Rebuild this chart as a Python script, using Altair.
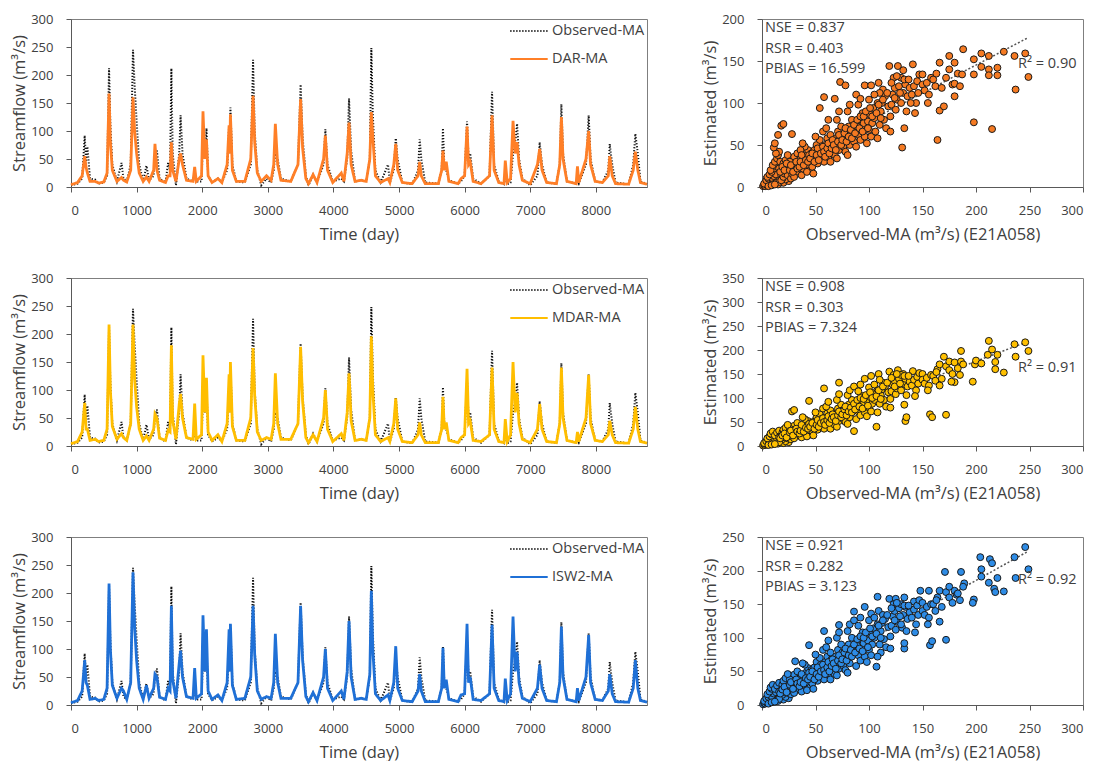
import altair as alt
import pandas as pd

FONT = "Open Sans"
TXT = "#404040"

# ---------------- time series key points (day, m3/s) ----------------
days = [0, 100, 170, 209, 230, 250, 290, 370, 420, 500, 550, 580, 600, 630, 700, 770, 800, 850,
        910, 945, 970, 1000, 1040, 1100, 1150, 1190, 1260, 1280, 1310, 1350, 1440, 1480, 1510, 1530,
        1550, 1600, 1650, 1670, 1700, 1760, 1860, 1885, 1910, 1990, 2012, 2040, 2065, 2090, 2150, 2240,
        2300, 2380, 2410, 2420, 2430, 2460, 2520, 2650, 2740, 2775, 2800, 2840, 2900, 2980, 3050, 3090,
        3115, 3150, 3200, 3350, 3460, 3500, 3530, 3580, 3620, 3690, 3750, 3850, 3877, 3910, 3990, 4120,
        4160, 4210, 4238, 4270, 4330, 4425, 4500, 4555, 4578, 4600, 4640, 4720, 4832, 4860, 4920, 4950,
        4980, 5050, 5200, 5290, 5315, 5340, 5400, 5600, 5650, 5670, 5690, 5720, 5760, 5900, 5945, 6000,
        6037, 6060, 6085, 6130, 6250, 6380, 6418, 6450, 6520, 6600, 6620, 6650, 6700, 6738, 6770, 6800,
        6830, 6880, 7000, 7110, 7144, 7180, 7250, 7400, 7450, 7475, 7500, 7560, 7700, 7720, 7740, 7850,
        7891, 7920, 7990, 8100, 8190, 8212, 8250, 8300, 8500, 8570, 8602, 8640, 8680, 8780]

observed = [3, 6, 15, 92, 45, 72, 15, 13, 6, 8, 20, 212, 110, 40, 10, 43, 15, 10,
            40, 245, 180, 120, 40, 10, 38, 12, 20, 50, 65, 15, 8, 43, 30, 212,
            60, 3, 60, 128, 60, 15, 10, 28, 10, 10, 90, 60, 105, 20, 8, 15,
            8, 30, 110, 60, 142, 40, 10, 8, 40, 227, 100, 30, 3, 15, 8, 30,
            60, 50, 15, 10, 40, 183, 90, 20, 3, 22, 8, 40, 103, 40, 10, 15,
            10, 50, 158, 65, 10, 12, 10, 50, 248, 130, 30, 8, 40, 8, 30, 87,
            50, 8, 5, 30, 85, 50, 8, 6, 30, 105, 40, 30, 12, 6, 10, 20,
            117, 50, 60, 15, 6, 20, 170, 40, 10, 5, 20, 5, 8, 60, 80, 113,
            50, 15, 3, 20, 80, 40, 8, 6, 40, 148, 60, 10, 6, 10, 6, 40,
            128, 50, 10, 8, 30, 77, 40, 8, 5, 40, 95, 60, 10, 5]

dar = [4, 8, 20, 55, 35, 25, 10, 10, 7, 9, 25, 167, 80, 30, 10, 17, 12, 9,
       30, 160, 100, 60, 25, 10, 18, 10, 30, 77, 30, 12, 8, 20, 20, 80,
       30, 10, 50, 60, 40, 12, 10, 36, 10, 20, 135, 50, 85, 20, 8, 15,
       8, 40, 110, 60, 130, 30, 10, 10, 50, 163, 80, 25, 10, 20, 12, 40,
       113, 40, 12, 10, 40, 157, 70, 15, 6, 22, 8, 50, 92, 30, 8, 25,
       10, 60, 115, 40, 10, 12, 10, 50, 134, 90, 20, 8, 15, 8, 40, 77,
       30, 8, 6, 20, 45, 20, 6, 6, 30, 65, 30, 45, 10, 6, 15, 20,
       108, 40, 45, 10, 6, 20, 128, 30, 8, 6, 47, 8, 15, 118, 60, 80,
       40, 12, 6, 40, 68, 30, 8, 6, 40, 125, 50, 10, 6, 37, 8, 50,
       100, 40, 10, 8, 20, 55, 20, 6, 5, 30, 63, 30, 8, 5]

mdar = [4, 8, 25, 77, 30, 30, 10, 12, 8, 10, 30, 217, 100, 35, 12, 22, 15, 10,
        40, 217, 120, 70, 30, 10, 18, 10, 30, 57, 50, 14, 10, 28, 25, 180,
        45, 12, 75, 93, 50, 15, 12, 76, 12, 20, 162, 60, 122, 25, 10, 20,
        8, 40, 128, 60, 150, 35, 10, 10, 50, 175, 90, 25, 10, 15, 12, 40,
        130, 40, 12, 12, 40, 177, 80, 15, 6, 20, 8, 50, 100, 30, 8, 22,
        10, 60, 130, 45, 10, 12, 10, 50, 196, 100, 20, 8, 15, 8, 40, 85,
        30, 8, 6, 20, 42, 20, 6, 6, 30, 88, 30, 42, 10, 6, 15, 20,
        138, 40, 45, 10, 8, 20, 140, 30, 8, 6, 48, 8, 20, 150, 60, 95,
        40, 12, 6, 30, 75, 30, 8, 6, 40, 140, 50, 10, 6, 25, 8, 50,
        127, 40, 10, 8, 20, 45, 20, 6, 5, 30, 70, 30, 8, 5]

isw2 = [4, 8, 25, 80, 40, 35, 10, 12, 8, 10, 30, 217, 100, 35, 12, 30, 25, 10,
        40, 237, 140, 80, 30, 10, 35, 12, 30, 55, 50, 14, 10, 30, 25, 177,
        45, 12, 75, 97, 50, 15, 12, 66, 12, 20, 160, 60, 135, 25, 10, 18,
        8, 40, 135, 60, 145, 35, 10, 12, 50, 177, 90, 25, 10, 15, 12, 40,
        127, 40, 12, 12, 40, 177, 80, 15, 6, 22, 8, 50, 100, 30, 8, 25,
        10, 60, 150, 50, 10, 12, 10, 55, 204, 100, 20, 8, 18, 8, 40, 105,
        30, 8, 6, 25, 55, 25, 6, 6, 30, 102, 30, 45, 10, 6, 18, 20,
        145, 40, 50, 10, 8, 20, 143, 30, 8, 6, 47, 8, 20, 158, 60, 95,
        40, 12, 6, 30, 72, 30, 8, 6, 40, 140, 50, 10, 6, 30, 8, 50,
        125, 40, 10, 8, 25, 55, 20, 6, 5, 30, 80, 30, 8, 5]

# ---------------- scatter points (observed, estimated) ----------------
dar_pairs = [
    (1, 1), (2, 2), (3, 1), (4, 3), (5, 2), (6, 4), (7, 3), (8, 5), (3, 5), (5, 7), (7, 8), (9, 6), (10, 4),
    (11, 8), (12, 10), (13, 6), (14, 9), (15, 12), (2, 4), (4, 8), (6, 10), (8, 12), (10, 14), (12, 16),
    (14, 18), (9, 11), (11, 13), (13, 15), (5, 12), (7, 15), (9, 18), (11, 22), (13, 25), (8, 20), (10, 26),
    (12, 30), (14, 34), (15, 38), (16, 42), (13, 40), (11, 47), (12, 52), (15, 62), (18, 73), (20, 75),
    (17, 30), (16, 22), (18, 14), (15, 3), (20, 5), (25, 7), (22, 9), (19, 10), (16, 6), (6, 1), (9, 2), (12, 3),
    (18, 8), (20, 12), (21, 16), (19, 20), (22, 24), (20, 28), (23, 18), (24, 14), (25, 22), (22, 32),
    (27, 10), (28, 16), (30, 20), (29, 26), (31, 30), (32, 24), (30, 36), (33, 40), (28, 63), (34, 18),
    (35, 28), (36, 34), (26, 30), (24, 38), (30, 12),
    (37, 14), (38, 22), (40, 28), (39, 34), (41, 38), (42, 26), (43, 44), (40, 48), (44, 32), (45, 20),
    (46, 40), (38, 52), (36, 44), (42, 18),
    (47, 24), (48, 32), (50, 36), (49, 44), (51, 50), (52, 28), (53, 40), (54, 56), (50, 60), (55, 46),
    (56, 34), (54, 94), (58, 107), (57, 66), (48, 16),
    (58, 30), (60, 42), (59, 50), (61, 58), (62, 36), (63, 48), (64, 62), (60, 70), (65, 54), (66, 40),
    (62, 80), (68, 105), (64, 30),
    (68, 38), (70, 50), (69, 58), (71, 66), (72, 44), (73, 56), (74, 72), (70, 80), (75, 62), (76, 48),
    (73, 125), (78, 121), (72, 90), (70, 34),
    (78, 42), (80, 56), (79, 64), (81, 72), (82, 50), (83, 62), (84, 80), (80, 90), (85, 68), (86, 54),
    (82, 98), (88, 110), (80, 38),
    (88, 48), (90, 62), (89, 72), (91, 80), (92, 56), (93, 70), (94, 88), (90, 98), (95, 76), (96, 60),
    (96, 121), (92, 105),
    (98, 52), (100, 68), (99, 78), (101, 86), (102, 60), (103, 76), (104, 94), (100, 104), (105, 82),
    (102, 121), (106, 66), (108, 100),
    (109, 124), (108, 58), (110, 74), (111, 90), (112, 100), (113, 116), (114, 80), (115, 108), (116, 70),
    (110, 112), (118, 96),
    (119, 144), (120, 84), (121, 98), (122, 110), (124, 118), (125, 92), (123, 130), (126, 104), (120, 66),
    (127, 144), (128, 120),
    (131, 47), (132, 139), (130, 100), (132, 112), (134, 122), (135, 90), (133, 70), (136, 108), (138, 118),
    (130, 130),
    (141, 146), (140, 110), (142, 120), (144, 100), (145, 126), (147, 134), (143, 88), (146, 112),
    (150, 134), (150, 122), (152, 115), (154, 124), (156, 110), (158, 130), (155, 100),
    (160, 128), (162, 120), (164, 56), (166, 91), (166, 148), (163, 135), (168, 118), (170, 96),
    (172, 130), (175, 156), (175, 140), (178, 122), (180, 148), (180, 123), (180, 108), (183, 135),
    (185, 120), (187, 134), (188, 164),
    (198, 77), (198, 152), (205, 159), (205, 143), (212, 156), (212, 140), (212, 133), (215, 69), (220, 133),
    (220, 142), (226, 161), (236, 156), (237, 116), (246, 159), (249, 131), (198, 134),
    # denser core of the cloud
    (17, 18), (19, 24), (21, 20), (23, 28), (26, 20), (27, 26), (29, 18), (32, 30), (33, 22), (35, 24),
    (36, 30), (37, 38), (39, 26), (41, 32), (43, 30), (44, 38), (45, 34), (47, 40), (49, 30), (51, 38),
    (52, 46), (53, 32), (55, 40), (57, 48), (58, 42), (59, 36), (61, 46), (62, 52), (63, 40), (65, 46),
    (66, 56), (67, 50), (69, 44), (71, 54), (72, 62), (74, 50), (75, 56), (77, 64), (78, 70), (79, 54),
    (81, 60), (83, 68), (84, 58), (86, 74), (87, 64), (89, 80), (91, 70), (92, 84), (94, 66), (95, 84),
    (97, 90), (99, 70), (101, 94), (103, 84), (105, 110), (107, 88), (109, 98), (111, 82), (113, 104),
    (117, 112), (121, 124), (124, 106), (126, 132), (129, 112), (133, 128), (137, 128), (139, 100),
]

mdar_pairs = [
    (1, 1), (2, 3), (3, 2), (4, 4), (5, 3), (6, 6), (7, 5), (8, 8), (3, 6), (5, 9), (7, 10), (9, 7), (10, 5),
    (11, 10), (12, 12), (13, 8), (14, 12), (15, 15), (2, 6), (4, 10), (6, 12), (8, 14), (10, 16), (12, 20),
    (14, 22), (9, 13), (11, 17), (13, 18), (5, 16), (7, 20), (9, 24), (11, 28), (8, 26), (10, 30), (12, 22),
    (14, 28), (16, 32), (16, 18), (18, 12), (15, 5), (20, 6), (25, 8), (22, 10), (19, 14), (16, 8), (6, 2),
    (9, 3), (12, 4),
    (18, 20), (20, 24), (21, 18), (19, 28), (22, 30), (20, 34), (23, 22), (24, 16), (25, 26), (22, 38),
    (27, 14), (28, 20), (30, 26), (29, 32), (31, 36), (32, 28), (30, 42), (28, 72), (30, 75), (34, 22),
    (35, 34), (36, 40), (26, 36), (24, 44), (30, 16), (33, 48),
    (37, 18), (38, 28), (40, 34), (39, 40), (41, 46), (42, 30), (43, 52), (40, 56), (44, 38), (45, 24),
    (46, 48), (38, 60), (44, 94), (42, 20),
    (47, 30), (48, 40), (50, 44), (49, 52), (51, 60), (52, 34), (53, 48), (54, 66), (50, 70), (55, 56),
    (56, 40), (58, 120), (57, 78), (48, 22),
    (58, 36), (60, 50), (59, 60), (61, 68), (62, 44), (63, 58), (64, 74), (60, 82), (65, 64), (66, 48),
    (62, 92), (64, 36),
    (68, 44), (70, 60), (69, 68), (71, 78), (72, 52), (73, 66), (74, 86), (70, 96), (75, 74), (76, 56),
    (72, 132), (72, 108), (70, 40),
    (78, 50), (80, 66), (79, 76), (81, 86), (82, 60), (83, 74), (84, 96), (80, 106), (85, 82), (86, 31),
    (82, 116), (86, 124), (80, 46),
    (88, 56), (90, 72), (89, 84), (91, 94), (92, 64), (93, 82), (94, 104), (90, 114), (95, 90), (96, 70),
    (96, 140), (92, 128),
    (98, 62), (100, 80), (99, 92), (101, 102), (102, 72), (103, 88), (104, 110), (100, 122), (105, 96),
    (102, 146), (107, 40), (108, 118),
    (109, 150), (108, 70), (110, 88), (111, 106), (112, 118), (113, 132), (114, 96), (115, 124), (116, 82),
    (110, 138), (118, 112),
    (119, 155), (120, 98), (121, 114), (122, 128), (124, 136), (125, 108), (123, 148), (126, 120), (120, 80),
    (127, 158), (128, 140),
    (134, 52), (135, 60), (132, 150), (130, 116), (132, 130), (134, 140), (135, 106), (133, 86), (136, 124),
    (138, 134), (130, 148),
    (141, 156), (140, 126), (142, 138), (144, 116), (145, 144), (147, 152), (143, 104), (146, 130),
    (150, 150), (150, 138), (152, 130), (154, 142), (156, 126), (158, 148), (155, 116), (157, 66), (159, 60),
    (160, 146), (162, 136), (164, 160), (166, 170), (163, 154), (168, 140), (170, 186), (172, 65), (166, 126),
    (172, 166), (175, 176), (175, 158), (178, 150), (180, 174), (180, 133), (177, 134), (183, 162),
    (185, 148), (186, 198), (186, 176), (188, 170),
    (197, 134), (199, 170), (200, 178), (211, 190), (215, 201), (212, 219), (220, 190), (218, 175),
    (218, 160), (226, 153), (236, 212), (237, 186), (246, 216), (249, 198), (205, 172),
    # denser core of the cloud
    (17, 16), (19, 22), (21, 26), (23, 18), (26, 28), (27, 32), (29, 22), (32, 36), (33, 30), (35, 26),
    (36, 32), (37, 44), (39, 30), (41, 38), (43, 36), (44, 46), (45, 40), (47, 48), (49, 36), (51, 44),
    (52, 54), (53, 40), (55, 48), (57, 58), (58, 50), (59, 44), (61, 54), (62, 62), (63, 48), (65, 56),
    (66, 66), (67, 60), (69, 52), (71, 64), (72, 72), (74, 60), (75, 66), (77, 76), (78, 82), (79, 64),
    (81, 72), (83, 80), (84, 70), (86, 88), (87, 76), (89, 96), (91, 82), (92, 100), (94, 78), (95, 98),
    (97, 106), (99, 84), (101, 112), (103, 100), (105, 128), (107, 104), (109, 116), (111, 98),
    (113, 124), (117, 132), (121, 142), (124, 124), (126, 150), (129, 130), (133, 146), (137, 146),
]

isw2_pairs = [
    (1, 1), (2, 3), (3, 2), (4, 4), (5, 3), (6, 6), (7, 5), (8, 8), (3, 6), (5, 9), (7, 10), (9, 7), (10, 6),
    (11, 10), (12, 12), (13, 9), (14, 13), (15, 15), (2, 6), (4, 10), (6, 12), (8, 14), (10, 17), (12, 20),
    (14, 23), (9, 13), (11, 17), (13, 19), (5, 16), (7, 20), (9, 24), (11, 28), (8, 26), (10, 30), (12, 24),
    (14, 29), (16, 33), (16, 20), (18, 13), (15, 6), (20, 8), (25, 10), (22, 12), (19, 15), (16, 9), (6, 2),
    (9, 4), (12, 5),
    (18, 22), (20, 26), (21, 19), (19, 30), (22, 32), (20, 36), (23, 24), (24, 18), (25, 28), (22, 40),
    (27, 16), (28, 22), (30, 28), (29, 34), (31, 38), (32, 30), (30, 45), (31, 65), (34, 24), (35, 36),
    (36, 42), (26, 38), (24, 46), (30, 18), (33, 50),
    (37, 20), (38, 30), (40, 36), (39, 42), (41, 48), (42, 32), (43, 55), (40, 60), (44, 40), (45, 26),
    (46, 52), (38, 62), (44, 89), (42, 22),
    (47, 32), (48, 42), (50, 48), (49, 56), (51, 64), (52, 36), (53, 52), (54, 70), (50, 75), (55, 60),
    (56, 42), (58, 110), (57, 82), (48, 24),
    (58, 38), (60, 52), (59, 64), (61, 72), (62, 46), (63, 60), (64, 78), (60, 86), (65, 68), (66, 50),
    (62, 96), (64, 38),
    (68, 46), (70, 62), (69, 72), (71, 82), (72, 54), (73, 68), (74, 90), (70, 100), (75, 78), (76, 58),
    (72, 119), (72, 108), (70, 44),
    (78, 52), (80, 68), (79, 80), (81, 90), (82, 62), (83, 76), (84, 100), (80, 110), (85, 86), (86, 139),
    (82, 120), (86, 126), (80, 48),
    (88, 58), (90, 74), (89, 88), (91, 98), (92, 66), (93, 84), (94, 108), (90, 118), (95, 92), (96, 146),
    (96, 72), (92, 130),
    (98, 64), (100, 82), (99, 96), (101, 106), (102, 74), (103, 90), (104, 114), (100, 126), (105, 100),
    (102, 136), (107, 57), (108, 161), (108, 120),
    (111, 78), (109, 140), (108, 72), (110, 90), (111, 110), (112, 122), (113, 134), (114, 98), (115, 128),
    (116, 86), (118, 116), (119, 158),
    (120, 102), (121, 118), (122, 132), (124, 140), (125, 112), (125, 158), (123, 150), (126, 124),
    (120, 84), (128, 144),
    (133, 84), (131, 115), (133, 160), (130, 120), (132, 134), (134, 146), (135, 110), (133, 92), (136, 128),
    (138, 138), (130, 150),
    (142, 154), (140, 130), (142, 142), (144, 120), (145, 148), (147, 156), (143, 108), (146, 134), (148, 170),
    (150, 152), (150, 140), (152, 134), (154, 146), (156, 170), (156, 130), (158, 150), (155, 120),
    (157, 89), (159, 95),
    (160, 150), (162, 140), (164, 160), (166, 124), (163, 156), (168, 146), (171, 198), (172, 97), (166, 170),
    (172, 168), (175, 176), (175, 160), (178, 152), (180, 170), (182, 164), (186, 198), (189, 181),
    (183, 166), (185, 156), (188, 176),
    (198, 157), (197, 152), (204, 220), (205, 202), (205, 191), (213, 217), (215, 211), (212, 182),
    (217, 173), (218, 168), (220, 189), (226, 169), (236, 220), (237, 189), (246, 235), (249, 202),
    # denser core of the cloud
    (17, 17), (19, 23), (21, 27), (23, 19), (26, 30), (27, 34), (29, 24), (32, 38), (33, 32), (35, 28),
    (36, 34), (37, 46), (39, 32), (41, 40), (43, 38), (44, 48), (45, 42), (47, 50), (49, 38), (51, 46),
    (52, 56), (53, 42), (55, 50), (57, 60), (58, 52), (59, 46), (61, 56), (62, 64), (63, 50), (65, 58),
    (66, 68), (67, 62), (69, 54), (71, 66), (72, 74), (74, 62), (75, 68), (77, 78), (78, 84), (79, 66),
    (81, 74), (83, 82), (84, 72), (86, 90), (87, 78), (89, 98), (91, 84), (92, 102), (94, 80), (95, 100),
    (97, 108), (99, 86), (101, 114), (103, 102), (105, 130), (107, 106), (109, 118), (111, 100),
    (113, 126), (117, 134), (121, 144), (124, 126), (126, 152), (129, 132), (133, 148), (137, 148),
]

stats = {
    "DAR-MA": ["NSE = 0.837", "RSR = 0.403", "PBIAS = 16.599", "R² = 0.90"],
    "MDAR-MA": ["NSE = 0.908", "RSR = 0.303", "PBIAS = 7.324", "R² = 0.91"],
    "ISW2-MA": ["NSE = 0.921", "RSR = 0.282", "PBIAS = 3.123", "R² = 0.92"],
}

TS_W, TS_H = 576, 168
SC_W, SC_H = 321, 168


def ts_chart(name, vals, color):
    df_obs = pd.DataFrame({"day": days, "flow": observed, "series": "Observed-MA"})
    df_mod = pd.DataFrame({"day": days, "flow": vals, "series": name})
    dom = ["Observed-MA", name]
    legend = alt.Legend(title=None, orient="none", legendX=436, legendY=-10, padding=2,
                        symbolType="stroke", symbolSize=1400, symbolStrokeWidth=2,
                        labelFontSize=14.5, labelColor=TXT, labelFont=FONT, rowPadding=1,
                        labelOffset=3)
    x = alt.X("day:Q", scale=alt.Scale(domain=[0, 8780], nice=False),
              axis=alt.Axis(values=list(range(0, 9000, 1000)), format="d", title="Time (day)"))
    y = alt.Y("flow:Q", scale=alt.Scale(domain=[0, 300], nice=False),
              axis=alt.Axis(values=list(range(0, 301, 50)), format="d", title="Streamflow (m³/s)"))
    col = alt.Color("series:N", scale=alt.Scale(domain=dom, range=["#111111", color]), legend=legend)
    dash = alt.StrokeDash("series:N", scale=alt.Scale(domain=dom, range=[[1.2, 1.8], [1, 0]]), legend=legend)
    obs_line = alt.Chart(df_obs).mark_line(strokeWidth=2).encode(x=x, y=y, color=col, strokeDash=dash)
    mod_line = alt.Chart(df_mod).mark_line(strokeWidth=2.8).encode(x=x, y=y, color=col, strokeDash=dash)
    return alt.layer(obs_line, mod_line).properties(width=TS_W, height=TS_H)


def label(text, px, py):
    return alt.Chart(pd.DataFrame({"t": [text]})).mark_text(
        align="left", baseline="middle", fontSize=14.5, font=FONT, color=TXT
    ).encode(x=alt.value(px), y=alt.value(py), text="t:N")


def sc_chart(name, pairs, color, ymax, r2_y):
    df = pd.DataFrame(pairs, columns=["obs", "est"])
    x = alt.X("obs:Q", scale=alt.Scale(domain=[0, 300], nice=False),
              axis=alt.Axis(values=list(range(0, 301, 50)), format="d", title="Observed-MA (m³/s) (E21A058)"))
    y = alt.Y("est:Q", scale=alt.Scale(domain=[0, ymax], nice=False),
              axis=alt.Axis(values=list(range(0, ymax + 1, 50)), format="d", title="Estimated (m³/s)"))
    trend = alt.Chart(df).transform_regression("obs", "est").mark_line(
        color="#555555", strokeDash=[2, 2], strokeWidth=1.5).encode(x=x, y=y)
    pts = alt.Chart(df).mark_circle(size=48, color=color, opacity=1, stroke="#1a1a1a",
                                     strokeWidth=1).encode(x=x, y=y)
    s = stats[name]
    layers = [trend, pts]
    for i, t in enumerate(s[:3]):
        layers.append(label(t, 3, 9 + 20.5 * i))
    layers.append(label(s[3], 256, r2_y))
    return alt.layer(*layers).properties(width=SC_W, height=SC_H)


rows = [
    ("DAR-MA", dar, "#FF7F27", dar_pairs, "#F57A22", 200, 45),
    ("MDAR-MA", mdar, "#FFBE00", mdar_pairs, "#FFC000", 350, 90),
    ("ISW2-MA", isw2, "#1F70D6", isw2_pairs, "#2E8CE6", 250, 43),
]

row_charts = []
for name, vals, lc, pairs, pc, ymax, r2y in rows:
    row_charts.append(
        alt.hconcat(ts_chart(name, vals, lc), sc_chart(name, pairs, pc, ymax, r2y), spacing=48)
        .resolve_scale(color="independent", strokeDash="independent", x="independent", y="independent")
        .resolve_legend(color="independent", strokeDash="independent")
    )

chart = alt.vconcat(*row_charts, spacing=24).resolve_scale(
    color="independent", strokeDash="independent", x="independent", y="independent"
).resolve_legend(color="independent", strokeDash="independent").properties(
    padding={"left": 3, "top": 0, "right": 3, "bottom": 0}
).configure_view(stroke="#7f7f7f", strokeWidth=1).configure_axis(
    labelFont=FONT, titleFont=FONT, labelFontSize=13, titleFontSize=16.5, labelColor=TXT,
    titleColor=TXT, titleFontWeight="normal", grid=False, domainColor="#595959", tickColor="#595959",
    tickSize=5,
).configure_axisY(labelPadding=13, titlePadding=3).configure_axisX(labelPadding=12, titlePadding=9)

chart.save("out.html", embed_options={"renderer": "svg", "actions": False})
